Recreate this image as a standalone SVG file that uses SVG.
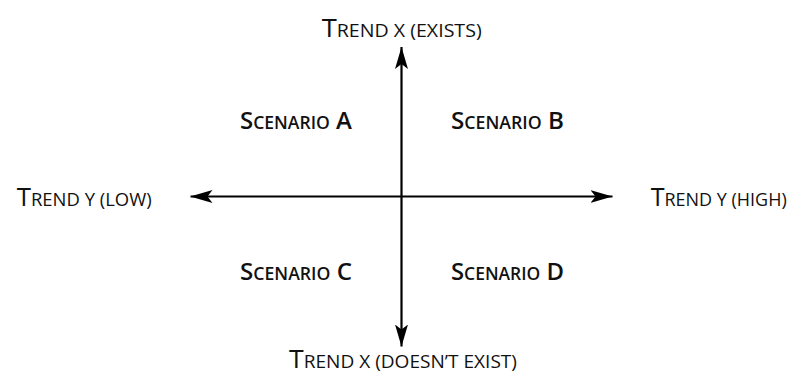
<svg xmlns="http://www.w3.org/2000/svg" width="792" height="379" viewBox="0 0 792 379">
<defs>
<style>
text{font-family:"Open Sans","DejaVu Sans",sans-serif;fill:#111;text-anchor:middle}
.t{font-size:26px}
.t .s{font-size:18.6px}
.sc{font-size:23.5px;font-weight:600}
.sc .s{font-size:17.2px}
.ax{stroke:#000;stroke-width:2.2;fill:none}
</style>
<marker id="ah" viewBox="-22 -7 22 14" refX="0" refY="0" markerWidth="22" markerHeight="14" markerUnits="userSpaceOnUse" orient="auto">
<path d="M0,0 L-22,-6.5 L-17,0 L-22,6.5 Z" fill="#000"/>
</marker>
</defs>
<g id="connectors">
<line class="ax" x1="401.5" y1="196.5" x2="401.5" y2="47" marker-end="url(#ah)"/>
<line class="ax" x1="401.5" y1="196.5" x2="401.5" y2="346.5" marker-end="url(#ah)"/>
<line class="ax" x1="401.5" y1="196.5" x2="190.5" y2="196.5" marker-end="url(#ah)"/>
<line class="ax" x1="401.5" y1="196.5" x2="612.5" y2="196.5" marker-end="url(#ah)"/>
</g>
<g id="top"><text class="t" x="401.7" y="37" textLength="160" lengthAdjust="spacingAndGlyphs">T<tspan class="s">REND X (EXISTS)</tspan></text></g>
<g id="bottom"><text class="t" x="403" y="368" textLength="228" lengthAdjust="spacingAndGlyphs">T<tspan class="s">REND X (DOESN’T EXIST)</tspan></text></g>
<g id="left"><text class="t" x="84.2" y="206" textLength="135" lengthAdjust="spacingAndGlyphs">T<tspan class="s">REND Y (LOW)</tspan></text></g>
<g id="right"><text class="t" x="718.7" y="206" textLength="136" lengthAdjust="spacingAndGlyphs">T<tspan class="s">REND Y (HIGH)</tspan></text></g>
<g id="scenA"><text class="sc" x="296" y="129" textLength="112" lengthAdjust="spacingAndGlyphs">S<tspan class="s">CENARIO</tspan> A</text></g>
<g id="scenB"><text class="sc" x="507.5" y="129" textLength="113" lengthAdjust="spacingAndGlyphs">S<tspan class="s">CENARIO</tspan> B</text></g>
<g id="scenC"><text class="sc" x="296" y="280" textLength="112" lengthAdjust="spacingAndGlyphs">S<tspan class="s">CENARIO</tspan> C</text></g>
<g id="scenD"><text class="sc" x="507.5" y="280" textLength="113" lengthAdjust="spacingAndGlyphs">S<tspan class="s">CENARIO</tspan> D</text></g>
</svg>
